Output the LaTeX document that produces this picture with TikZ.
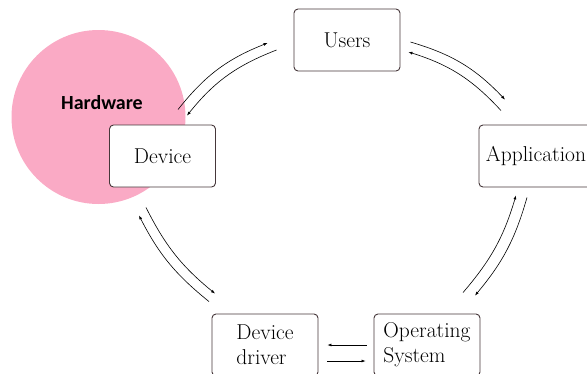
\documentclass[tikz,border=0pt]{standalone}
\usepackage{fontspec}
\newfontfamily\hwfont{Carlito}
\usepackage{tikz}
\usetikzlibrary{arrows.meta}
\definecolor{hwpink}{RGB}{250,170,197}
\definecolor{boxline}{RGB}{70,55,58}

\begin{document}
\begin{tikzpicture}[x=1pt,y=-1pt]
	\useasboundingbox (0,0) rectangle (587,373);
	\tikzstyle{box} = [draw=boxline, line width=0.9pt, rounded corners=4pt, fill=white, minimum width=106pt, minimum height=62pt, inner sep=7pt, align=left, font=\fontsize{21.5}{25}\selectfont]
	\tikzstyle{link} = [line width=0.6pt, -{Latex[length=4pt,width=3pt]}]
	\fill[hwpink] (98.5,117) circle (87);
	\node[font=\hwfont\bfseries\fontsize{20}{22}\selectfont] (hw) at (102,103) {Hardware};
	\node[box] (users) at (347,40) {Users};
	\node[box] (app) at (536,156) {Application};
	\node[box] (dev) at (162.5,156) {Device};
	\node[box] (drv) at (265,345) {Device\\driver};
	\node[box] (os) at (427,345) {Operating\\System};
	% pairs of links round the ring
	\draw[link] ([shift={(15.5,-15)}]dev.north) to[bend left=15] ([shift={(-26,3)}]users.west);
	\draw[link] ([shift={(-17,10)}]users.west) to[bend right=15] ([shift={(24.5,-9)}]dev.north);
	\draw[link] ([shift={(10,2)}]users.east) to[bend left=15] ([shift={(-31,-25)}]app.north);
	\draw[link] ([shift={(-35,-14)}]app.north) to[bend right=15] ([shift={(8,12)}]users.east);
	\draw[link] ([shift={(-9,10)}]app.south) to[bend left=12] ([shift={(48,-18)}]os.north);
	\draw[link] ([shift={(36,-21)}]os.north) to[bend right=12] ([shift={(-20,8)}]app.south);
	\draw[link] ([shift={(-16.5,20)}]dev.south) to[bend right=12] ([shift={(-50,-20)}]drv.north);
	\draw[link] ([shift={(-56,-12)}]drv.north) to[bend left=12] ([shift={(-23.5,28)}]dev.south);
	\draw[link] ([shift={(-7,0)}]os.west) -- ([shift={(9,0)}]drv.east);
	\draw[link] ([shift={(9,16)}]drv.east) -- ([shift={(-8,16)}]os.west);
\end{tikzpicture}
\end{document}
